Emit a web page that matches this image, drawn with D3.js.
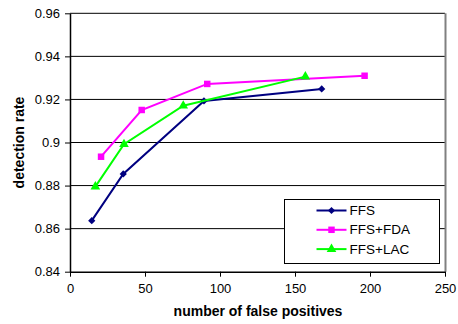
<!DOCTYPE html>
<html lang="en">
<head>
<meta charset="UTF-8">
<script src="https://d3js.org/d3.v7.min.js"></script>
<style>
    body { margin: 0; background: #fff; }
    svg { font-family: "Liberation Sans", Arial, sans-serif; }
</style>
</head>
<body>
<div id="chart"></div>
<script>
    // values
    const ffsX = [14.5, 35.5, 89.3, 167.8];
    const ffsY = [0.8637, 0.8854, 0.9193, 0.9249];
    const fdaX = [20.7, 47.8, 91.5, 196.4];
    const fdaY = [0.8934, 0.9151, 0.9272, 0.9310];
    const lacX = [16.9, 36.0, 75.5, 156.9];
    const lacY = [0.8795, 0.8992, 0.9171, 0.9306];
    const seriesNames = ["FFS", "FFS+FDA", "FFS+LAC"];
    const xTicks = [0, 50, 100, 150, 200, 250];
    const yTicks = [0.84, 0.86, 0.88, 0.9, 0.92, 0.94, 0.96];

    const W = 458, H = 324;
    const m = {left: 70, right: 13, top: 13.3, bottom: 52.3};

    const svg = d3.select("#chart").append("svg")
        .attr("width", W).attr("height", H);

    const x = d3.scaleLinear().domain([0, 250]).range([m.left, W - m.right]);
    const y = d3.scaleLinear().domain([0.84, 0.96]).range([H - m.bottom, m.top]);

    // grid lines
    svg.append("g").selectAll("line")
        .data(yTicks.slice(1))
        .enter().append("line")
        .attr("x1", m.left).attr("x2", W - m.right)
        .attr("y1", d => y(d)).attr("y2", d => y(d))
        .attr("stroke", "#000").attr("stroke-width", 1);

    // right border of plot area (grey)
    svg.append("line")
        .attr("x1", W - m.right + 0.5).attr("x2", W - m.right + 0.5)
        .attr("y1", m.top).attr("y2", H - m.bottom)
        .attr("stroke", "#808080").attr("stroke-width", 2);

    // axes
    const xAxis = svg.append("g")
        .attr("transform", `translate(0,${H - m.bottom})`)
        .call(d3.axisBottom(x).tickValues(xTicks).tickSize(5).tickSizeOuter(0).tickPadding(7));
    const yAxis = svg.append("g")
        .attr("transform", `translate(${m.left},0)`)
        .call(d3.axisLeft(y).tickValues(yTicks).tickSize(5).tickSizeOuter(0).tickPadding(5)
            .tickFormat(d => String(+d.toFixed(2))));

    [xAxis, yAxis].forEach(a => {
        a.selectAll("path").attr("stroke", "#000").attr("stroke-width", 1.5);
        a.selectAll("line").attr("stroke", "#000");
        a.selectAll("text").attr("font-size", 13).attr("fill", "#000")
            .attr("font-family", "Liberation Sans, Arial, sans-serif");
    });

    // axis titles
    svg.append("text")
        .attr("x", 258).attr("y", 316)
        .attr("text-anchor", "middle")
        .attr("font-size", 14).attr("font-weight", "bold")
        .text("number of false positives");
    svg.append("text")
        .attr("transform", `translate(24,${(m.top + H - m.bottom) / 2}) rotate(-90)`)
        .attr("text-anchor", "middle")
        .attr("font-size", 14).attr("font-weight", "bold")
        .text("detection rate");

    // diamond = square turned 45 degrees
    const series = [
        {name: seriesNames[0], xs: ffsX, ys: ffsY, color: "#000080", shape: d3.symbolSquare, size: 26, rot: 45},
        {name: seriesNames[1], xs: fdaX, ys: fdaY, color: "#ff00ff", shape: d3.symbolSquare, size: 42, rot: 0},
        {name: seriesNames[2], xs: lacX, ys: lacY, color: "#00ff00", shape: d3.symbolTriangle, size: 40, rot: 0}
    ];

    const line = d3.line().x(d => x(d[0])).y(d => y(d[1]));

    series.forEach(s => {
        const pts = s.xs.map((v, i) => [v, s.ys[i]]);
        svg.append("path")
            .datum(pts)
            .attr("d", line)
            .attr("fill", "none")
            .attr("stroke", s.color)
            .attr("stroke-width", 2);
        svg.append("g").selectAll("path")
            .data(pts)
            .enter().append("path")
            .attr("transform", d => `translate(${x(d[0])},${y(d[1])}) rotate(${s.rot})`)
            .attr("d", d3.symbol().type(s.shape).size(s.size))
            .attr("fill", s.color);
    });

    // legend
    const lg = svg.append("g").attr("transform", "translate(284.5,199.5)");
    lg.append("rect")
        .attr("width", 155).attr("height", 64)
        .attr("fill", "#fff").attr("stroke", "#000").attr("stroke-width", 1);
    series.forEach((s, i) => {
        const ly = 11 + i * 19.3;
        lg.append("line")
            .attr("x1", 32).attr("x2", 62).attr("y1", ly).attr("y2", ly)
            .attr("stroke", s.color).attr("stroke-width", 2);
        lg.append("path")
            .attr("transform", `translate(47,${ly}) rotate(${s.rot})`)
            .attr("d", d3.symbol().type(s.shape).size(s.size))
            .attr("fill", s.color);
        lg.append("text")
            .attr("x", 65).attr("y", ly + 4.5)
            .attr("font-size", 13.5)
            .text(s.name);
    });
</script>
</body>
</html>
